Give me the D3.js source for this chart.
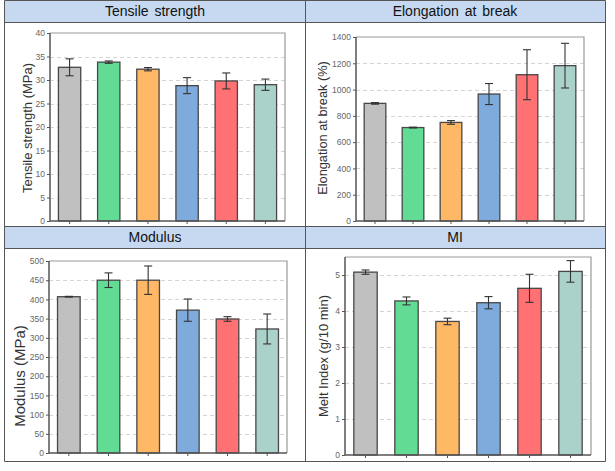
<!DOCTYPE html>
<html><head><meta charset="utf-8">
<script src="https://cdn.jsdelivr.net/npm/d3@7"></script>
<style>body{margin:0;background:#fff}svg{display:block}</style>
</head><body><svg id="c" width="615" height="471"></svg>
<script>
const samples = ["S1","S2","S3","S4","S5","S6"];
const colors = ["#c0c0c0","#62dc95","#ffb866","#7eaadc","#ff7172","#abd1cb"];
const panelTitles = ["Tensile strength","Elongation at break","Modulus","MI"];
const axisTitles = ["Tensile strength (MPa)","Elongation at break (%)","Modulus (MPa)","Melt Index (g/10 min)"];
const tensile = [32.7, 33.8, 32.3, 28.8, 29.8, 29.0];
const tensileErr = [1.8, 0.25, 0.35, 1.7, 1.7, 1.2];
const elongation = [895, 711, 750, 966, 1113, 1182];
const elongationErr = [6, 3, 14, 80, 190, 170];
const modulus = [407, 450, 450, 372, 349, 323];
const modulusErr = [1, 19, 37, 29, 6, 39];
const meltIndex = [5.08, 4.28, 3.71, 4.23, 4.63, 5.10];
const meltIndexErr = [0.06, 0.11, 0.09, 0.17, 0.39, 0.30];
const tensileTicks = [0,5,10,15,20,25,30,35,40];
const elongationTicks = [0,200,400,600,800,1000,1200,1400];
const modulusTicks = [0,50,100,150,200,250,300,350,400,450,500];
const meltIndexTicks = [0,1,2,3,4,5];

const svg = d3.select("#c");
svg.append("rect").attr("width",615).attr("height",471).attr("fill","#fff");

// table
const tx0=4.5, tx1=605.5, tmid=305.5, ty0=0.5, h1=22.5, yMid=226.5, h2=248.5, ty1=461.5;
svg.append("rect").attr("x",tx0).attr("y",ty0).attr("width",tx1-tx0).attr("height",h1-ty0).attr("fill","#c6d9f0");
svg.append("rect").attr("x",tx0).attr("y",yMid).attr("width",tx1-tx0).attr("height",h2-yMid).attr("fill","#c6d9f0");
const lineC="#555";
[[tx0,ty0,tx1,ty0],[tx0,h1,tx1,h1],[tx0,yMid,tx1,yMid],[tx0,h2,tx1,h2],[tx0,ty1,tx1,ty1],
 [tx0,ty0,tx0,ty1],[tx1,ty0,tx1,ty1],[tmid,ty0,tmid,ty1]].forEach(l=>{
  svg.append("line").attr("x1",l[0]).attr("y1",l[1]).attr("x2",l[2]).attr("y2",l[3]).attr("stroke",lineC).attr("stroke-width",1);
});
const headerPos = [[155,11.5],[455,11.5],[155,237.5],[455,237.5]];
panelTitles.forEach((t,i)=>{
  svg.append("text").attr("x",headerPos[i][0]).attr("y",headerPos[i][1]).attr("dy","0.35em")
    .attr("text-anchor","middle").attr("font-family","Liberation Sans, Arial, sans-serif")
    .attr("font-size",14).attr("fill","#111").attr("word-spacing","2px").text(t);
});

const panels = [
  {vals:tensile, err:tensileErr, ticks:tensileTicks, max:40, l:50, r:285, t:33, b:221, tx:27, ty:128, fs:13},
  {vals:elongation, err:elongationErr, ticks:elongationTicks, max:1400, l:356, r:584, t:37, b:221, tx:323, ty:128, fs:12.8},
  {vals:modulus, err:modulusErr, ticks:modulusTicks, max:500, l:49, r:287, t:261, b:453, tx:20, ty:376, fs:15},
  {vals:meltIndex, err:meltIndexErr, ticks:meltIndexTicks, max:5.5, l:345, r:591, t:257, b:455, tx:323, ty:356, fs:13}
];

panels.forEach((p,pi)=>{
  const g = svg.append("g");
  const x = d3.scaleBand().domain(samples).range([p.l,p.r]).paddingInner(0.43).paddingOuter(0.215);
  const y = d3.scaleLinear().domain([0,p.max]).range([p.b,p.t]);
  // grid
  g.selectAll(".grid").data(p.ticks.filter(v=>v>0 && y(v)>p.t+1)).enter().append("line")
    .attr("x1",p.l).attr("x2",p.r).attr("y1",d=>Math.round(y(d))+0.5).attr("y2",d=>Math.round(y(d))+0.5)
    .attr("stroke","#d4d4d4").attr("stroke-width",1).attr("stroke-dasharray","4,3");
  // frame top/right
  g.append("path").attr("d",`M${p.l},${p.t}H${p.r}V${p.b}`).attr("fill","none").attr("stroke","#9a9a9a").attr("stroke-width",1.2);
  // bars
  g.selectAll(".bar").data(p.vals).enter().append("rect")
    .attr("x",(d,i)=>x(samples[i])).attr("width",x.bandwidth())
    .attr("y",d=>y(d)).attr("height",d=>p.b-y(d))
    .attr("fill",(d,i)=>colors[i]).attr("stroke","#474747").attr("stroke-width",1.3);
  // error bars
  const eb = g.selectAll(".eb").data(p.vals).enter().append("g");
  eb.append("line").attr("x1",(d,i)=>x(samples[i])+x.bandwidth()/2).attr("x2",(d,i)=>x(samples[i])+x.bandwidth()/2)
    .attr("y1",(d,i)=>y(d+p.err[i])).attr("y2",(d,i)=>y(d-p.err[i])).attr("stroke","#333").attr("stroke-width",1.1);
  [1,-1].forEach(s=>{
    eb.append("line").attr("x1",(d,i)=>x(samples[i])+x.bandwidth()/2-4).attr("x2",(d,i)=>x(samples[i])+x.bandwidth()/2+4)
      .attr("y1",(d,i)=>y(d+s*p.err[i])).attr("y2",(d,i)=>y(d+s*p.err[i])).attr("stroke","#333").attr("stroke-width",1.1);
  });
  // y axis
  const ya = g.append("g").attr("transform",`translate(${p.l},0)`)
    .call(d3.axisLeft(y).tickValues(p.ticks).tickSize(3).tickPadding(2).tickFormat(d3.format("d")));
  ya.select(".domain").remove();
  ya.selectAll("line").attr("stroke","#555");
  ya.selectAll("text").attr("font-family","Liberation Sans, Arial, sans-serif").attr("font-size",8.5).attr("fill","#666");
  // x axis
  const xa = g.append("g").attr("transform",`translate(0,${p.b})`)
    .call(d3.axisBottom(x).tickSize(3).tickFormat(""));
  xa.select(".domain").remove();
  xa.selectAll("line").attr("stroke","#555");
  // left & bottom axis lines
  g.append("path").attr("d",`M${p.l},${p.t}V${p.b}H${p.r}`).attr("fill","none").attr("stroke","#555").attr("stroke-width",1.5);
  // axis title
  g.append("text").attr("transform",`translate(${p.tx},${p.ty}) rotate(-90)`).attr("text-anchor","middle")
    .attr("dy","0.35em").attr("font-family","Liberation Sans, Arial, sans-serif").attr("font-size",p.fs)
    .attr("fill","#333").text(axisTitles[pi]);
});
</script></body></html>
